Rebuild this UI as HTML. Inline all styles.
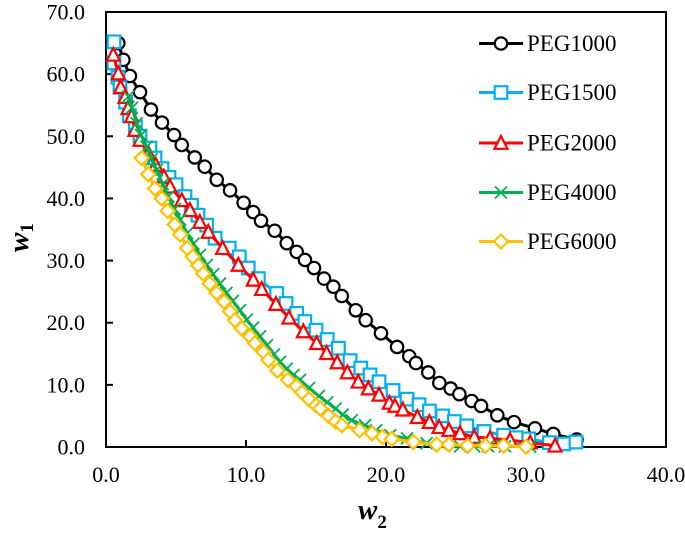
<!DOCTYPE html>
<html>
<head>
<meta charset="utf-8">
<style>
html,body{margin:0;padding:0;background:#fff}
svg{display:block}
text{font-family:"Liberation Serif",serif;fill:#000}
</style>
</head>
<body>
<svg id="chart" xmlns="http://www.w3.org/2000/svg" width="685" height="534" viewBox="0 0 685 534"></svg>
<script>
const xTicks = [0, 10, 20, 30, 40];
const yTicks = [0, 10, 20, 30, 40, 50, 60, 70];
const seriesNames = ["PEG1000", "PEG1500", "PEG2000", "PEG4000", "PEG6000"];
const peg1000X = [0.88,1.24,1.71,2.43,3.21,4.0,4.86,5.41,6.34,7.05,7.91,8.86,9.83,10.52,11.07,12.05,12.91,13.62,14.21,14.86,15.57,16.24,16.84,17.84,18.55,19.64,20.79,21.66,22.14,23.02,23.81,24.62,25.24,26.12,26.79,27.95,29.14,30.64,31.95,33.62];
const peg1000Y = [65.0,62.3,59.7,57.1,54.3,52.2,50.2,48.6,46.6,45.1,43.0,41.3,39.3,37.8,36.4,34.8,32.8,31.4,30.1,28.8,27.1,25.8,24.3,22.0,20.4,18.3,16.1,14.6,13.5,12.0,10.3,9.4,8.5,7.4,6.6,5.1,4.0,3.0,2.1,1.2];
const peg1500X = [0.57,0.57,0.86,1.0,1.4,1.67,2.1,2.43,3.14,3.5,4.0,4.5,5.0,5.64,6.1,6.57,7.19,7.79,8.8,9.52,10.16,10.88,12.19,12.86,13.62,14.2,15.0,15.8,16.6,17.43,18.2,18.86,19.5,20.5,21.5,22.36,23.1,24.05,24.88,25.76,27.0,28.4,29.3,30.2,31.67,32.7,33.57];
const peg1500Y = [65.2,61.8,59.5,57.9,55.5,53.3,51.5,50.0,48.1,46.5,44.8,43.4,42.2,40.3,38.9,37.3,35.7,33.6,32.0,30.6,28.8,27.1,24.7,23.1,21.5,20.2,18.8,17.3,15.9,13.9,12.7,11.6,10.5,9.1,7.7,6.8,5.8,5.0,4.1,3.4,2.5,1.9,1.5,1.3,0.7,0.5,0.8];
const peg2000X = [0.52,0.88,1.05,1.36,1.57,1.83,2.07,2.43,3.02,3.55,4.14,4.57,5.41,6.0,6.7,7.31,8.33,9.45,10.52,11.12,12.14,13.07,14.1,15.05,15.76,16.52,17.24,18.02,18.74,19.5,20.24,20.64,21.2,22.24,23.1,23.79,24.5,25.29,26.3,27.43,28.86,30.3,32.07];
const peg2000Y = [63.1,60.1,57.9,56.3,54.5,53.2,51.0,49.4,47.3,45.4,43.5,41.9,39.7,38.1,36.2,34.6,32.0,29.3,26.9,25.4,23.0,20.8,18.6,16.7,15.1,13.6,12.0,10.5,9.4,8.4,7.1,6.6,6.0,4.8,4.0,3.2,2.7,2.2,1.6,1.4,1.1,0.7,0.2];
const peg4000X = [1.6,1.85,2.19,2.5,2.9,3.25,3.62,4.05,4.45,4.9,5.3,5.8,6.25,6.71,7.2,7.65,8.14,8.6,9.05,9.57,10.05,10.5,11.0,11.5,12.0,12.43,12.9,13.4,13.86,14.5,15.2,15.8,16.4,16.9,17.55,18.5,19.3,20.3,21.5,22.9,24.0,25.3,26.3,27.3,28.5,30.3];
const peg4000Y = [56.4,54.6,52.1,50.2,48.3,46.3,44.6,42.3,40.3,38.3,36.6,34.4,32.7,30.9,29.3,27.8,26.3,24.8,23.5,22.0,20.5,19.2,17.8,16.4,14.9,13.7,12.6,11.6,10.8,9.5,8.2,7.2,6.2,5.2,4.3,3.5,2.7,1.9,1.4,0.6,0.3,0.1,0.1,0.1,0.1,0.05];
const peg6000X = [2.55,3.02,3.5,3.98,4.4,4.9,5.3,5.8,6.2,6.6,6.95,7.4,7.9,8.43,8.86,9.21,9.69,10.29,10.64,11.24,11.6,12.24,13.0,13.6,14.0,14.5,15.0,15.3,15.9,16.4,16.84,18.1,19.0,19.76,20.41,21.95,23.62,24.5,25.83,27.1,28.4,30.0];
const peg6000Y = [46.5,43.9,41.6,40.0,38.0,35.8,34.2,32.0,30.6,29.2,27.9,26.3,24.8,23.4,21.8,20.4,19.1,17.8,16.7,15.3,14.0,12.3,10.8,9.8,8.8,7.7,6.7,6.2,5.0,4.1,3.5,2.7,2.2,1.6,1.3,0.8,0.4,0.4,0.2,0.2,0.2,0.05];

const svg = document.getElementById('chart');
const NS = 'http://www.w3.org/2000/svg';
const L = 106, R = 666, T = 12, B = 447, XMAX = 40, YMAX = 70;
function sx(v) { return L + (R - L) * v / XMAX; }
function sy(v) { return B - (B - T) * v / YMAX; }
function make(tag, attrs, parent) {
  const e = document.createElementNS(NS, tag);
  for (const k in attrs) e.setAttribute(k, attrs[k]);
  (parent || svg).appendChild(e);
  return e;
}
function drawMarker(kind, cx, cy, color, parent) {
  let m;
  if (kind === 'circle') {
    m = make('circle', {cx: cx, cy: cy, r: 6.2, fill: '#fff', stroke: color, 'stroke-width': 2.2}, parent);
  } else if (kind === 'square') {
    m = make('rect', {x: cx - 6.3, y: cy - 6.3, width: 12.6, height: 12.6, fill: '#fff', stroke: color, 'stroke-width': 2.2}, parent);
  } else if (kind === 'triangle') {
    m = make('polygon', {points: (cx - 6.5) + ',' + (cy + 5.8) + ' ' + (cx + 6.5) + ',' + (cy + 5.8) + ' ' + cx + ',' + (cy - 7), fill: '#fff', stroke: color, 'stroke-width': 2.2}, parent);
  } else if (kind === 'diamond') {
    m = make('polygon', {points: (cx - 7) + ',' + cy + ' ' + cx + ',' + (cy - 7) + ' ' + (cx + 7) + ',' + cy + ' ' + cx + ',' + (cy + 7), fill: '#fff', stroke: color, 'stroke-width': 2.2}, parent);
  } else {
    m = make('path', {d: 'M' + (cx - 6) + ' ' + (cy - 6) + 'L' + (cx + 6) + ' ' + (cy + 6) + 'M' + (cx - 6) + ' ' + (cy + 6) + 'L' + (cx + 6) + ' ' + (cy - 6), fill: 'none', stroke: color, 'stroke-width': 1.8}, parent);
  }
  return m;
}

const frame = make('rect', {x: L, y: T, width: R - L, height: B - T, fill: '#fff', stroke: '#000', 'stroke-width': 2});



xTicks.forEach(function (v) {
  const t = make('line', {x1: sx(v), x2: sx(v), y1: B, y2: B - 7, stroke: '#000', 'stroke-width': 2});
  
  
  const l = make('text', {x: sx(v), y: 482, 'text-anchor': 'middle', 'font-size': 22});
  
  
  l.textContent = v.toFixed(1);
});
yTicks.forEach(function (v) {
  const t = make('line', {x1: L, x2: L + 7, y1: sy(v), y2: sy(v), stroke: '#000', 'stroke-width': 2});
  
  
  const l = make('text', {x: 85, y: sy(v) + 7.5, 'text-anchor': 'end', 'font-size': 22});
  
  
  l.textContent = v.toFixed(1);
});

const kinds = ['circle', 'square', 'triangle', 'x', 'diamond'];
const colors = ['#000000', '#00B0F0', '#FF0000', '#00B050', '#FFC000'];
const xs = [peg1000X, peg1500X, peg2000X, peg4000X, peg6000X];
const ys = [peg1000Y, peg1500Y, peg2000Y, peg4000Y, peg6000Y];
const legendY = [43.5, 92.5, 143, 192.5, 241.5];

seriesNames.forEach(function (name, i) {
  const g = make('g', {});
  
  
  const pts = xs[i].map(function (x, j) { return sx(x) + ',' + sy(ys[i][j]); }).join(' ');
  const line = make('polyline', {points: pts, fill: 'none', stroke: colors[i], 'stroke-width': 3, 'stroke-linejoin': 'round'}, g);
  
  
  xs[i].forEach(function (x, j) {
    const m = drawMarker(kinds[i], sx(x), sy(ys[i][j]), colors[i], g);
    
    
  });
});

seriesNames.forEach(function (name, i) {
  const g = make('g', {});
  
  
  const s = make('line', {x1: 479, x2: 523, y1: legendY[i], y2: legendY[i], stroke: colors[i], 'stroke-width': 3}, g);
  
  
  const m = drawMarker(kinds[i], 501, legendY[i], colors[i], g);
  
  
  const t = make('text', {x: 527, y: legendY[i] + 7.5, 'font-size': 23}, g);
  
  
  t.textContent = name;
});
</script>
<svg xmlns="http://www.w3.org/2000/svg" width="685" height="534" viewBox="0 0 685 534" style="position:absolute;left:0;top:0;pointer-events:none">
  <text x="358" y="519" font-size="29" font-weight="bold" font-style="italic">w<tspan font-size="19" font-style="normal" dy="9">2</tspan></text>
  <text transform="translate(28,252) rotate(-90)" x="0" y="0" font-size="29" font-weight="bold" font-style="italic">w<tspan font-size="19" font-style="normal" dy="5">1</tspan></text>
</svg>
</body>
</html>
